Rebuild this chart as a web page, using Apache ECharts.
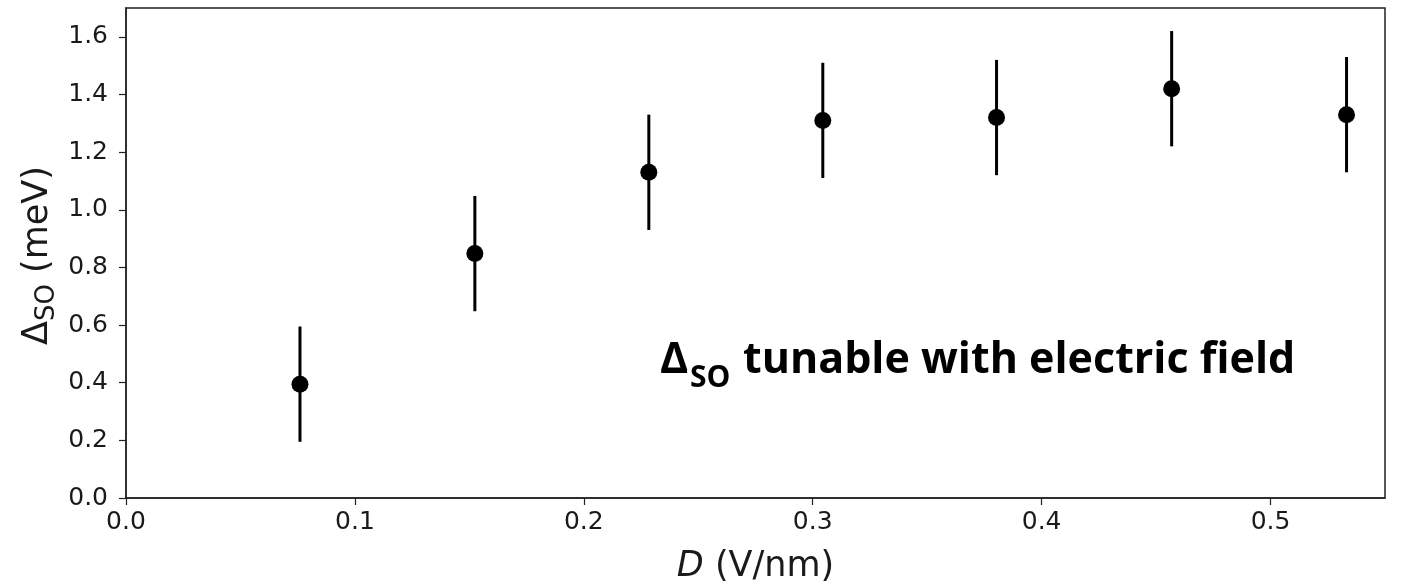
<!DOCTYPE html>
<html>
<head>
<meta charset="utf-8">
<script src="https://cdn.jsdelivr.net/npm/echarts@6/dist/echarts.min.js"></script>
<style>
  html, body { margin: 0; padding: 0; background: #fff; }
  #chart { width: 1401px; height: 585px; }
</style>
</head>
<body>
<div id="chart"></div>
<script>
// Displacement field D (V/nm)
const fieldD = [0.076, 0.1524, 0.2284, 0.3044, 0.3803, 0.4568, 0.5332];
// Spin-orbit gap (meV)
const gapSO = [0.395, 0.848, 1.13, 1.31, 1.32, 1.42, 1.33];
// Symmetric uncertainty (meV)
const gapErr = [0.2, 0.2, 0.2, 0.2, 0.2, 0.2, 0.2];

const xTicks = [0.0, 0.1, 0.2, 0.3, 0.4, 0.5];
const yTicks = [0.0, 0.2, 0.4, 0.6, 0.8, 1.0, 1.2, 1.4, 1.6];

const points = fieldD.map((d, i) => [d, gapSO[i]]);
const bars = fieldD.map((d, i) => [d, gapSO[i] - gapErr[i], gapSO[i] + gapErr[i]]);

const tickFont = 'DejaVu Sans';
const ink = '#1a1a1a';
const chart = echarts.init(document.getElementById('chart'), null, { renderer: 'canvas' });

chart.setOption({
  animation: false,
  backgroundColor: '#ffffff',
  grid: {
    left: 126, right: 16, top: 8, bottom: 87,
    show: true, borderColor: '#222', borderWidth: 1.5,
    containLabel: false, outerBoundsMode: 'none'
  },
  xAxis: {
    type: 'value', min: 0, max: 0.55, interval: 0.1,
    splitLine: { show: false },
    axisLine: { show: true, onZero: false, lineStyle: { color: '#222', width: 1.5 } },
    axisTick: { show: true, length: 7, customValues: xTicks, lineStyle: { color: '#222', width: 1.2 } },
    axisLabel: {
      margin: 12, fontFamily: tickFont, fontSize: 25, color: ink,
      customValues: xTicks,
      formatter: v => v.toFixed(1)
    },
    name: '{i|D} (V/nm)',
    nameLocation: 'middle', nameGap: 51,
    nameTextStyle: {
      fontFamily: tickFont, fontSize: 35, color: ink,
      rich: { i: { fontFamily: tickFont, fontSize: 35, fontStyle: 'italic', color: ink } }
    }
  },
  yAxis: {
    type: 'value', min: 0, max: 1.7, interval: 0.2,
    splitLine: { show: false },
    axisLine: { show: true, onZero: false, lineStyle: { color: '#222', width: 1.5 } },
    axisTick: { show: true, length: 7, customValues: yTicks, lineStyle: { color: '#222', width: 1.2 } },
    axisLabel: {
      margin: 18, fontFamily: tickFont, fontSize: 25, color: ink,
      customValues: yTicks,
      formatter: v => v.toFixed(1)
    }
  },
  graphic: [
    {
      // vertical axis title, read bottom to top
      type: 'group', x: 52, y: 345, rotation: Math.PI / 2,
      children: [
        { type: 'text', x: 0, y: -32, style: { text: 'Δ', font: '35px "DejaVu Sans"', fill: ink, verticalAlign: 'top' } },
        { type: 'text', x: 24, y: -17.5, style: { text: 'SO', font: '26px "DejaVu Sans"', fill: ink, verticalAlign: 'top' } },
        { type: 'text', x: 72, y: -32, style: { text: '(meV)', font: '35px "DejaVu Sans"', fill: ink, verticalAlign: 'top' } }
      ]
    },
    { type: 'text', x: 660, y: 339, style: { text: 'Δ', font: 'bold 43px "Open Sans"', fill: '#000', verticalAlign: 'top' } },
    { type: 'text', x: 690, y: 363, style: { text: 'SO', font: 'bold 30px "Open Sans"', fill: '#000', verticalAlign: 'top' } },
    { type: 'text', x: 743, y: 339, style: { text: 'tunable with electric field', font: 'bold 43px "Open Sans"', fill: '#000', verticalAlign: 'top' } }
  ],
  series: [
    {
      type: 'custom',
      data: bars,
      renderItem: (params, api) => {
        const top = api.coord([api.value(0), api.value(2)]);
        const bot = api.coord([api.value(0), api.value(1)]);
        return {
          type: 'line',
          shape: { x1: top[0], y1: top[1], x2: bot[0], y2: bot[1] },
          style: { stroke: '#000', lineWidth: 3 }
        };
      },
      z: 2
    },
    {
      type: 'scatter',
      data: points,
      symbol: 'circle', symbolSize: 17,
      itemStyle: { color: '#000', opacity: 1 },
      z: 3
    }
  ]
});
</script>
</body>
</html>
